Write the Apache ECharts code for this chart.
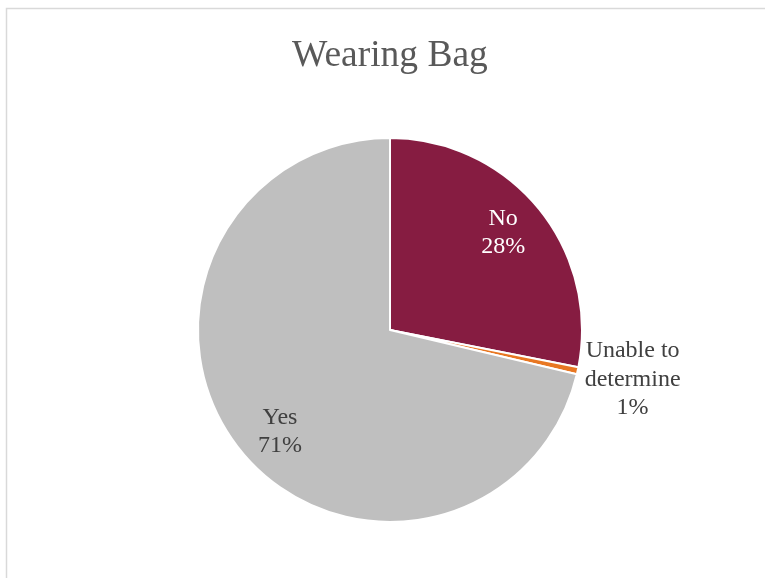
<!DOCTYPE html>
<html>
<head>
<meta charset="utf-8">
<script src="https://cdn.jsdelivr.net/npm/echarts@6/dist/echarts.min.js"></script>
<style>html,body{margin:0;padding:0;background:#fff;}#c{width:765px;height:578px;}</style>
</head>
<body>
<div id="c"></div>
<script>
const titleText = 'Wearing Bag';
const categories = ['No', 'Unable to determine', 'Yes'];
const values = [28.1, 0.6, 71.3];
const colors = ['#861C41', '#E87722', '#BFBFBF'];
const labelColors = ['#ffffff', '#404040', '#404040'];

const FONT = '"Liberation Serif", "Times New Roman", serif';
const chart = echarts.init(document.getElementById('c'));

const mainData = categories.map((name, i) => ({
  name: name, value: values[i],
  itemStyle: { color: colors[i] },
  label: i === 1 ? {
    show: true, position: 'outside',
    formatter: '{a|Unable to}\n{a|determine}\n{a|{d}%}',
    rich: { a: { width: 98, align: 'center', fontFamily: FONT, fontSize: 24, lineHeight: 28.5, color: labelColors[i] } },
    padding: [17, 0, 0, 0]
  } : { show: false },
  labelLine: { show: false, length: 1, length2: 0 }
}));

const labelOffsets = [[-5, 0], [0, 0], [10, 7]];
const overlayData = categories.map((name, i) => ({
  name: name, value: values[i],
  itemStyle: { color: 'rgba(0,0,0,0)', borderWidth: 0 },
  label: i === 1 ? { show: false } : {
    show: true, position: 'inside', formatter: '{b}\n{d}%',
    color: labelColors[i], fontFamily: FONT, fontSize: 24, lineHeight: 28,
    offset: labelOffsets[i]
  }
}));

chart.setOption({
  animation: false,
  title: {
    text: titleText, left: 287, top: 32,
    textStyle: { fontFamily: FONT, fontSize: 37.5, fontWeight: 'normal', color: '#595959' }
  },
  graphic: [{
    type: 'rect', shape: { x: 6.5, y: 8.5, width: 800, height: 700 },
    style: { fill: 'none', stroke: '#d9d9d9', lineWidth: 1.5 }, silent: true
  }],
  series: [{
    type: 'pie', center: [390, 330], radius: [0, 192], startAngle: 90, clockwise: true,
    percentPrecision: 0, avoidLabelOverlap: false,
    itemStyle: { borderColor: '#ffffff', borderWidth: 2 },
    emphasis: { disabled: true },
    data: mainData
  }, {
    type: 'pie', center: [390, 330], radius: [115, 185], startAngle: 90, clockwise: true,
    percentPrecision: 0, silent: true, emphasis: { disabled: true },
    labelLine: { show: false },
    data: overlayData
  }]
});
</script>
</body>
</html>
